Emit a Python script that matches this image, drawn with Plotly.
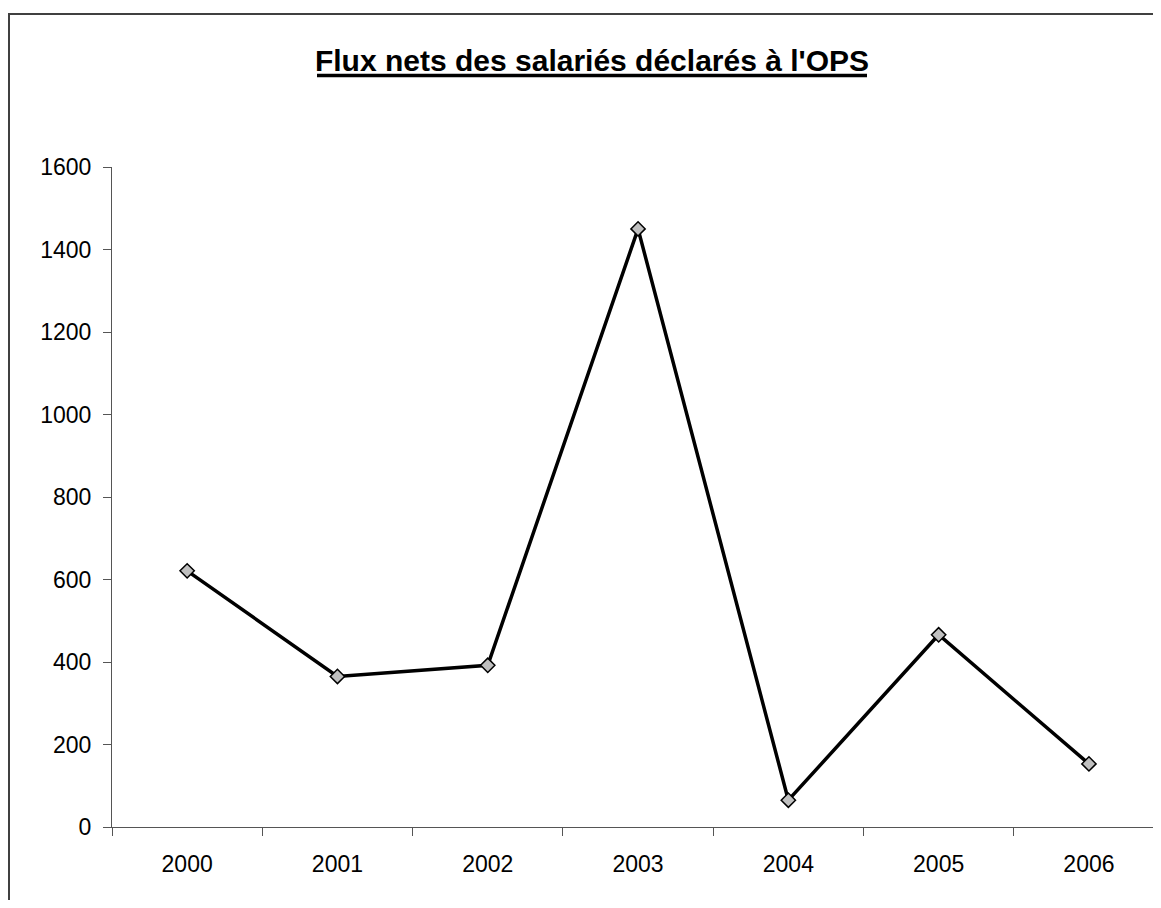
import plotly.graph_objects as go

years = ["2000", "2001", "2002", "2003", "2004", "2005", "2006"]
flux = [621, 365, 392, 1450, 65, 466, 153]
y_ticks = [0, 200, 400, 600, 800, 1000, 1200, 1400, 1600]
title_text = "Flux nets des salariés déclarés à l'OPS"

# page has an 8px body margin; size figure so that no scrollbars appear
OFF = 8
W, H = 1161 - 2 * OFF, 908 - 2 * OFF
L, R, T = 112 - OFF, 0, 167 - OFF
plot_h = 660
B = H - T - plot_h
plot_w = W - L - R
cat_px = 150.3

fig = go.Figure()
fig.add_trace(go.Scatter(
    x=years, y=flux, mode="lines+markers",
    line=dict(color="black", width=3.5),
    marker=dict(symbol="diamond", size=11, color="#c0c0c0",
                line=dict(color="black", width=1.5)),
    cliponaxis=False,
    showlegend=False,
))

font = dict(family="Liberation Sans, Arial, sans-serif", color="black")

fig.update_layout(
    width=W, height=H,
    margin=dict(l=L, r=R, t=T, b=B, autoexpand=False),
    paper_bgcolor="white", plot_bgcolor="white",
    font=dict(size=23, **font),
    title=dict(
        text=title_text,
        font=dict(size=30, weight="bold", **font),
        x=(592 - OFF - L) / plot_w, xref="paper", xanchor="center",
        y=1 - (60 - OFF) / H, yref="container", yanchor="middle",
    ),
    xaxis=dict(
        type="category",
        range=[-0.5, -0.5 + plot_w / cat_px],
        tickson="boundaries",
        ticks="outside", ticklen=8, tickcolor="#555", tickwidth=1,
        showline=True, linecolor="#555", linewidth=1,
        showgrid=False, zeroline=False,
        ticklabelstandoff=16,
        tickfont=dict(size=23, **font),
    ),
    yaxis=dict(
        range=[0, 1600],
        tickvals=y_ticks,
        ticks="outside", ticklen=8, tickcolor="#555", tickwidth=1,
        showline=True, linecolor="#555", linewidth=1,
        showgrid=False, zeroline=False,
        ticklabelstandoff=7,
        tickfont=dict(size=23, **font),
    ),
    shapes=[
        dict(
            type="rect", xref="paper", yref="paper",
            xsizemode="pixel", ysizemode="pixel",
            xanchor=0, yanchor=1,
            x0=-L + 1, x1=W + 50, y0=-(H + 50), y1=T - (14 - OFF),
            line=dict(color="#404040", width=2),
            fillcolor="rgba(0,0,0,0)",
            layer="below",
        ),
        # title underline
        dict(
            type="line", xref="paper", yref="paper",
            xsizemode="pixel", ysizemode="pixel",
            xanchor=0, yanchor=1,
            x0=317 - OFF - L, x1=867 - OFF - L,
            y0=T - (75.5 - OFF), y1=T - (75.5 - OFF),
            line=dict(color="black", width=3.3),
        ),
    ],
)

fig.write_html("out.html")
